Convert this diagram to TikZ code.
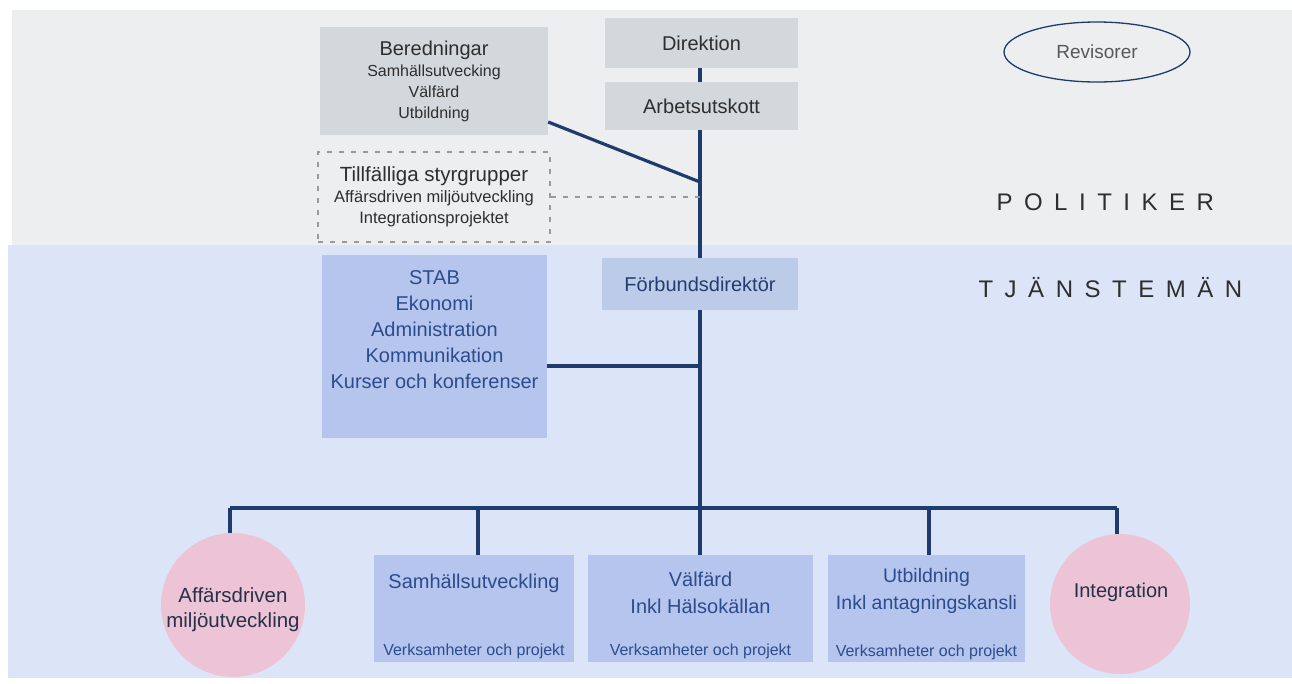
\documentclass[tikz,border=0pt]{standalone}
\usepackage{fontspec}
\setmainfont{Liberation Sans}
\newfontfamily\spacedfont[LetterSpace=48]{Liberation Sans}
\usetikzlibrary{shapes.geometric}
\definecolor{bandgray}{HTML}{ECEEF0}
\definecolor{bandblue}{HTML}{DCE5F8}
\definecolor{boxgray}{HTML}{D3D8DC}
\definecolor{boxblue}{HTML}{B5C5EE}
\definecolor{boxfd}{HTML}{BCCBE8}
\definecolor{pinkc}{HTML}{ECC4D6}
\definecolor{linec}{HTML}{1E3B6B}
\definecolor{dashc}{HTML}{9A9A9A}
\definecolor{txtdark}{HTML}{2E2E2E}
\definecolor{txtblue}{HTML}{2C4C8C}
\definecolor{txtcirc}{HTML}{273049}
\tikzset{
  graybox/.style={rectangle, fill=boxgray, draw=none, inner sep=0pt, text=txtdark, align=center},
  bluebox/.style={rectangle, fill=boxblue, draw=none, inner sep=0pt, text=txtblue, align=center},
  dashbox/.style={rectangle, draw=dashc, line width=1.2pt, dash pattern=on 5pt off 7pt, inner sep=0pt, text=txtdark, align=center},
  pinkcirc/.style={circle, fill=pinkc, draw=none, inner sep=0pt, text=txtcirc, align=center, font=\fontsize{20.5}{25}\selectfont},
  big/.style={font=\fontsize{20}{24}\selectfont},
  small/.style={font=\fontsize{16}{20}\selectfont},
  conn/.style={draw=linec, line width=3.2pt},
  dconn/.style={draw=dashc, line width=1.2pt, dash pattern=on 5pt off 7pt},
}
\begin{document}
\begin{tikzpicture}[x=1pt,y=-1pt]
\useasboundingbox (0,0) rectangle (1292,683);
% bands
\fill[bandgray] (12,10) rectangle (1292,245);
\fill[bandblue] (8,245) rectangle (1292,678);

% political level
\node[graybox, minimum width=228pt, minimum height=108pt, font=\fontsize{16}{21}\selectfont] (bered) at (434,81)
  {{\fontsize{20}{24}\selectfont Beredningar}\\Samhällsutvecking\\Välfärd\\Utbildning};
\node[graybox, big, minimum width=193pt, minimum height=50pt] (dir) at (701.5,43) {Direktion};
\node[graybox, big, minimum width=193pt, minimum height=48pt] (au) at (701.5,106) {Arbetsutskott};
\node[dashbox, minimum width=232pt, minimum height=90pt, font=\fontsize{16.5}{21}\selectfont] (tillf) at (434,197)
  {{\fontsize{20.5}{24}\selectfont Tillfälliga styrgrupper}\\Affärsdriven miljöutveckling\\Integrationsprojektet};
\node[ellipse, draw=linec, line width=1.3pt, minimum width=186pt, minimum height=60pt, inner sep=0pt,
      text=black!65, font=\fontsize{19}{23}\selectfont] (rev) at (1097,52) {Revisorer};
\node[anchor=west, text=txtdark, font=\fontsize{24}{28}\spacedfont] (pol) at (993,202) {POLITIKER};
\node[anchor=west, text=txtdark, font=\fontsize{24}{28}\spacedfont] (tj) at (975,288) {TJÄNSTEMÄN};

% officials level
\node[bluebox, minimum width=225pt, minimum height=183pt] (stab) at (434.5,346.5) {};
\node[text=txtblue, align=center, inner sep=0pt, font=\fontsize{20}{26}\selectfont] (stabtxt) at (434.5,330)
  {STAB\\Ekonomi\\Administration\\Kommunikation\\Kurser och konferenser};
\node[rectangle, fill=boxfd, inner sep=0pt, text=txtblue!80!black, big, minimum width=196pt, minimum height=52pt] (fd) at (700,284) {Förbundsdirektör};

% bottom units
\node[bluebox, minimum width=200pt, minimum height=107pt] (samh) at (474,608.5) {};
\node[big, text=txtblue, inner sep=0pt] (samhtxt) at (474,583) {Samhällsutveckling};
\node[small, text=txtblue, inner sep=0pt] (samhsub) at (474,651) {Verksamheter och projekt};

\node[bluebox, minimum width=225pt, minimum height=107pt] (valf) at (700.5,608.5) {};
\node[text=txtblue, align=center, inner sep=0pt, font=\fontsize{20}{27}\selectfont] (valftxt) at (700.5,593) {Välfärd\\Inkl Hälsokällan};
\node[small, text=txtblue, inner sep=0pt] (valfsub) at (700.5,651) {Verksamheter och projekt};

\node[bluebox, minimum width=197pt, minimum height=107pt] (utb) at (926.5,608.5) {};
\node[text=txtblue, align=center, inner sep=0pt, font=\fontsize{19.5}{27}\selectfont] (utbtxt) at (926.5,591) {Utbildning\\Inkl antagningskansli};
\node[small, text=txtblue, inner sep=0pt] (utbsub) at (926.5,652) {Verksamheter och projekt};

\node[pinkcirc, minimum size=144pt] (aff) at (233,605) {};
\node[text=txtcirc, align=center, inner sep=0pt, font=\fontsize{20.5}{25}\selectfont] (afftxt) at (233,609.5) {Affärsdriven\\miljöutveckling};
\node[pinkcirc, minimum size=140pt] (integ) at (1120,604) {};
\node[text=txtcirc, inner sep=0pt, font=\fontsize{20}{24}\selectfont] (integtxt) at (1121,592) {Integration};

% junction coordinates
\coordinate (j1) at (700,182);
\coordinate (j2) at (700,197);
\coordinate (j3) at (700,366);
\coordinate (bL) at (230,508);
\coordinate (bM) at (700,508);
\coordinate (bR) at (1117,508);

% connectors
\draw[conn] (dir.south -| 700,0) -- (au.north -| 700,0);
\draw[conn] (au.south -| 700,0) -- (fd.north);
\draw[conn] (bered.east |- 0,122) -- (j1);
\draw[dconn] (tillf.east) -- (j2);
\draw[conn] (fd.south) -- (valf.north -| fd.south);
\draw[conn] (stab.east |- j3) -- (j3);
\draw[conn] (bL) -- (bR);
\draw[conn] (bL) -- (bL |- aff.north);
\draw[conn] (samh.north -| 478,0) -- (478,508);
\draw[conn] (utb.north -| 929,0) -- (929,508);
\draw[conn] (bR) -- (bR |- integ.north);
\end{tikzpicture}
\end{document}
